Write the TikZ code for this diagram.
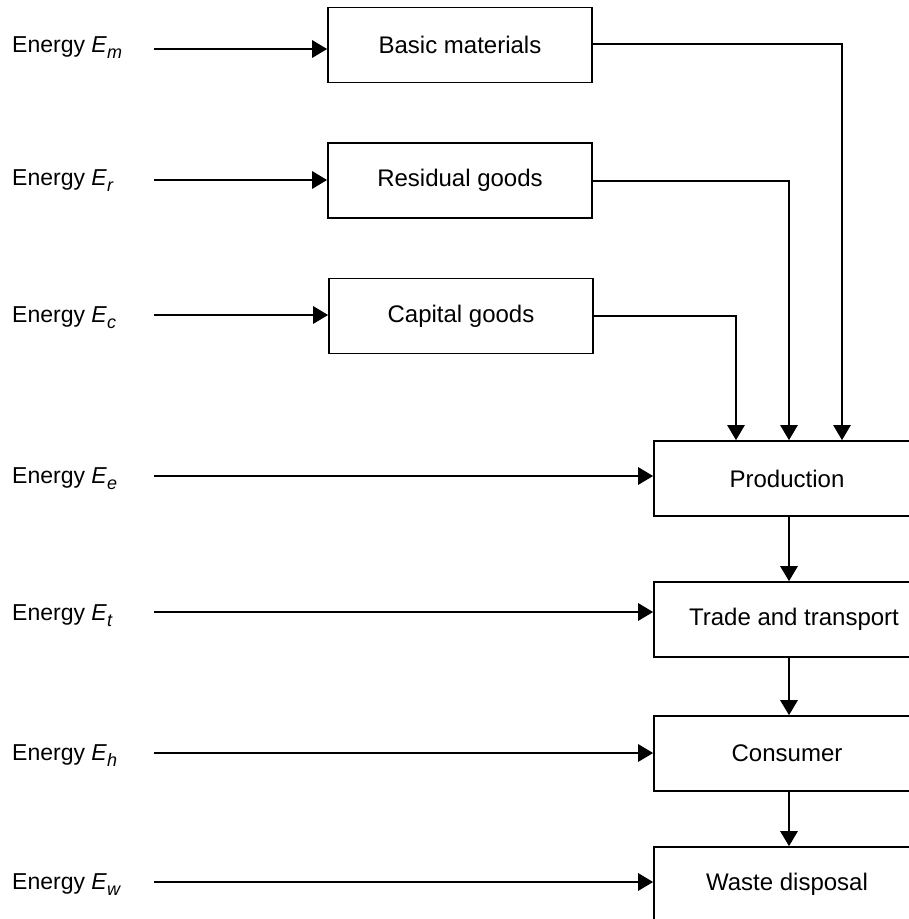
\documentclass[tikz,border=0pt]{standalone}
\usepackage{fontspec}
\setmainfont{Liberation Sans}
\usetikzlibrary{arrows.meta}
\newcommand{\En}[1]{Energy \textit{E}\raisebox{-6.5pt}{\fontsize{18}{18}\selectfont\textit{#1}}}
\begin{document}
\begin{tikzpicture}[x=1pt,y=-1pt,
  box/.style={draw=black,line width=1.6pt,minimum width=264pt,minimum height=75pt,inner sep=0pt,font=\fontsize{24}{28}\selectfont},
  bigbox/.style={box,minimum width=266pt},
  lab/.style={anchor=base west,inner sep=0pt,font=\fontsize{23}{27}\selectfont},
  arr/.style={line width=2.8pt,-{Triangle[length=15pt,width=17pt]}},
  con/.style={line width=2.4pt,-{Triangle[length=15pt,width=17pt]}}]
\useasboundingbox (0,0) rectangle (909,919);
\clip (0,0) rectangle (909,919);
% boxes
\node[box] (bm) at (460,45) {Basic materials};
\node[box] (rg) at (460,180.5) {Residual goods};
\node[box] (cg) at (461,316) {Capital goods};
\node[bigbox] (pr) at (787,478.5) {Production};
\node[bigbox] (tt) at (787,619.5) {\hspace*{14pt}Trade and transport};
\node[bigbox] (co) at (787,753.5) {Consumer};
\node[bigbox] (wd) at (787,884.5) {Waste disposal};
% labels
\node[lab] (lm) at (12,52) {\En{m}};
\node[lab] (lr) at (12,185) {\En{r}};
\node[lab] (lc) at (12,322) {\En{c}};
\node[lab] (le) at (12,483) {\En{e}};
\node[lab] (lt) at (12,620) {\En{t}};
\node[lab] (lh) at (12,760) {\En{h}};
\node[lab] (lw) at (12,889) {\En{w}};
% start points of energy arrows
\coordinate (sm) at (154,49);
\coordinate (sr) at (154,180);
\coordinate (sc) at (154,315);
\coordinate (se) at (154,476);
\coordinate (st) at (154,612);
\coordinate (sh) at (154,753);
\coordinate (sw) at (154,882);
\draw[arr] (sm) -- (sm -| bm.west);
\draw[arr] (sr) -- (sr -| rg.west);
\draw[arr] (sc) -- (sc -| cg.west);
\draw[arr] (se) -- (se -| pr.west);
\draw[arr] (st) -- (st -| tt.west);
\draw[arr] (sh) -- (sh -| co.west);
\draw[arr] (sw) -- (sw -| wd.west);
% connectors to production
\coordinate (km) at (842,44);
\coordinate (kr) at (789,181);
\coordinate (kc) at (736,316);
\draw[con] (bm.east |- km) -- (km) -- (km |- pr.north);
\draw[con] (rg.east |- kr) -- (kr) -- (kr |- pr.north);
\draw[con] (cg.east |- kc) -- (kc) -- (kc |- pr.north);
% chain
\coordinate (ch) at (789,0);
\draw[arr] (ch |- pr.south) -- (ch |- tt.north);
\draw[arr] (ch |- tt.south) -- (ch |- co.north);
\draw[arr] (ch |- co.south) -- (ch |- wd.north);
\end{tikzpicture}
\end{document}
